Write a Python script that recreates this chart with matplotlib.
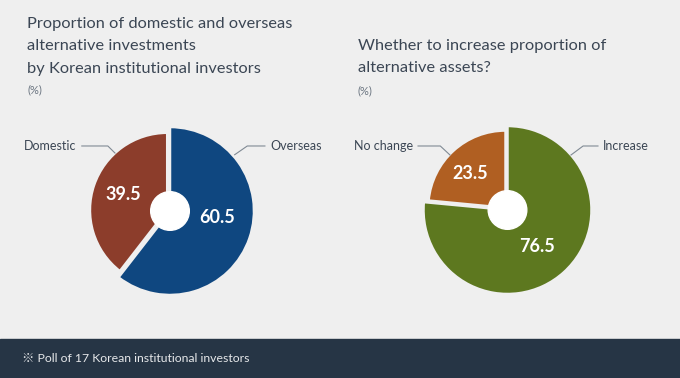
import matplotlib
matplotlib.use('Agg')
import matplotlib.pyplot as plt
from matplotlib.patches import Circle

plt.rcParams['font.family'] = ['Lato', 'Noto Sans CJK KR', 'DejaVu Sans']

# data
left_labels = ['Overseas', 'Domestic']
left_values = [60.5, 39.5]
left_colors = ['#0f4780', '#8c3d2b']
right_labels = ['Increase', 'No change']
right_values = [76.5, 23.5]
right_colors = ['#5d781f', '#b05f22']

left_title = 'Proportion of domestic and overseas\nalternative investments\nby Korean institutional investors'
right_title = 'Whether to increase proportion of\nalternative assets?'
note = '\u203b Poll of 17 Korean institutional investors'

BG = '#efefef'
TXT = '#3b4654'
LINE = '#808a94'
W, H = 680, 378
R_PX = 84


def pie_axes(fig, cx, cy):
    half = 1.2 * R_PX
    ax = fig.add_axes([(cx - half) / W, (H - cy - half) / H, 2 * half / W, 2 * half / H])
    return ax


def draw_pie(ax, values, colors, label_pos):
    wedges, _ = ax.pie(values, colors=colors, startangle=90, counterclock=False,
                       explode=[0, 0.035], radius=1.0,
                       wedgeprops=dict(edgecolor=BG, linewidth=1.8))
    wedges[1].set_radius(0.92)
    ax.set_xlim(-1.2, 1.2)
    ax.set_ylim(-1.2, 1.2)
    ax.set_aspect('equal')
    ax.axis('off')
    ax.add_patch(Circle((0, 0), 0.23, color='white', zorder=5))
    for v, (x, y) in zip(values, label_pos):
        ax.text(x, y, f'{v:.1f}', color='white', fontsize=13, fontweight='bold',
                ha='center', va='center', zorder=6)


def leader(ax, pts, text, side):
    xs, ys = zip(*pts)
    ax.plot(xs, ys, color=LINE, lw=0.8, clip_on=False)
    tx = xs[-1] + (0.06 if side == 'right' else -0.06)
    ax.text(tx, ys[-1], text, color=TXT, fontsize=9, va='center',
            ha='left' if side == 'right' else 'right')


fig = plt.figure(figsize=(6.8, 3.78), dpi=100, facecolor=BG)

# left pie
ax1 = pie_axes(fig, 170, 211)
draw_pie(ax1, left_values, left_colors, [(0.56, -0.08), (-0.56, 0.20)])
leader(ax1, [(0.77, 0.67), (0.92, 0.774), (1.13, 0.774)], left_labels[0], 'right')
leader(ax1, [(-0.655, 0.69), (-0.74, 0.774), (-1.05, 0.774)], left_labels[1], 'left')

# right pie
ax2 = pie_axes(fig, 507.5, 210)
draw_pie(ax2, right_values, right_colors, [(0.35, -0.44), (-0.45, 0.44)])
leader(ax2, [(0.756, 0.655), (0.9, 0.762), (1.077, 0.762)], right_labels[0], 'right')
leader(ax2, [(-0.685, 0.655), (-0.80, 0.762), (-1.065, 0.762)], right_labels[1], 'left')

# titles
fig.text(27 / W, 1 - 17 / H, left_title, color=TXT, fontsize=11.8, va='top', ha='left',
         linespacing=1.75)
fig.text(27 / W, 1 - 90 / H, '(%)', color='#6a7480', fontsize=8, va='center')
fig.text(358 / W, 1 - 39 / H, right_title, color=TXT, fontsize=11.8, va='top', ha='left',
         linespacing=1.75)
fig.text(358 / W, 1 - 91 / H, '(%)', color='#6a7480', fontsize=8, va='center')

# footer band
fig.patches.append(plt.Rectangle((0, 0), 1, 39 / H, transform=fig.transFigure,
                                 color='#263545', zorder=0))
fig.text(22 / W, 20 / H, note, color='#e6e8ea', fontsize=8.8, va='center', ha='left')

fig.savefig('out.png', dpi=100, facecolor=BG)
